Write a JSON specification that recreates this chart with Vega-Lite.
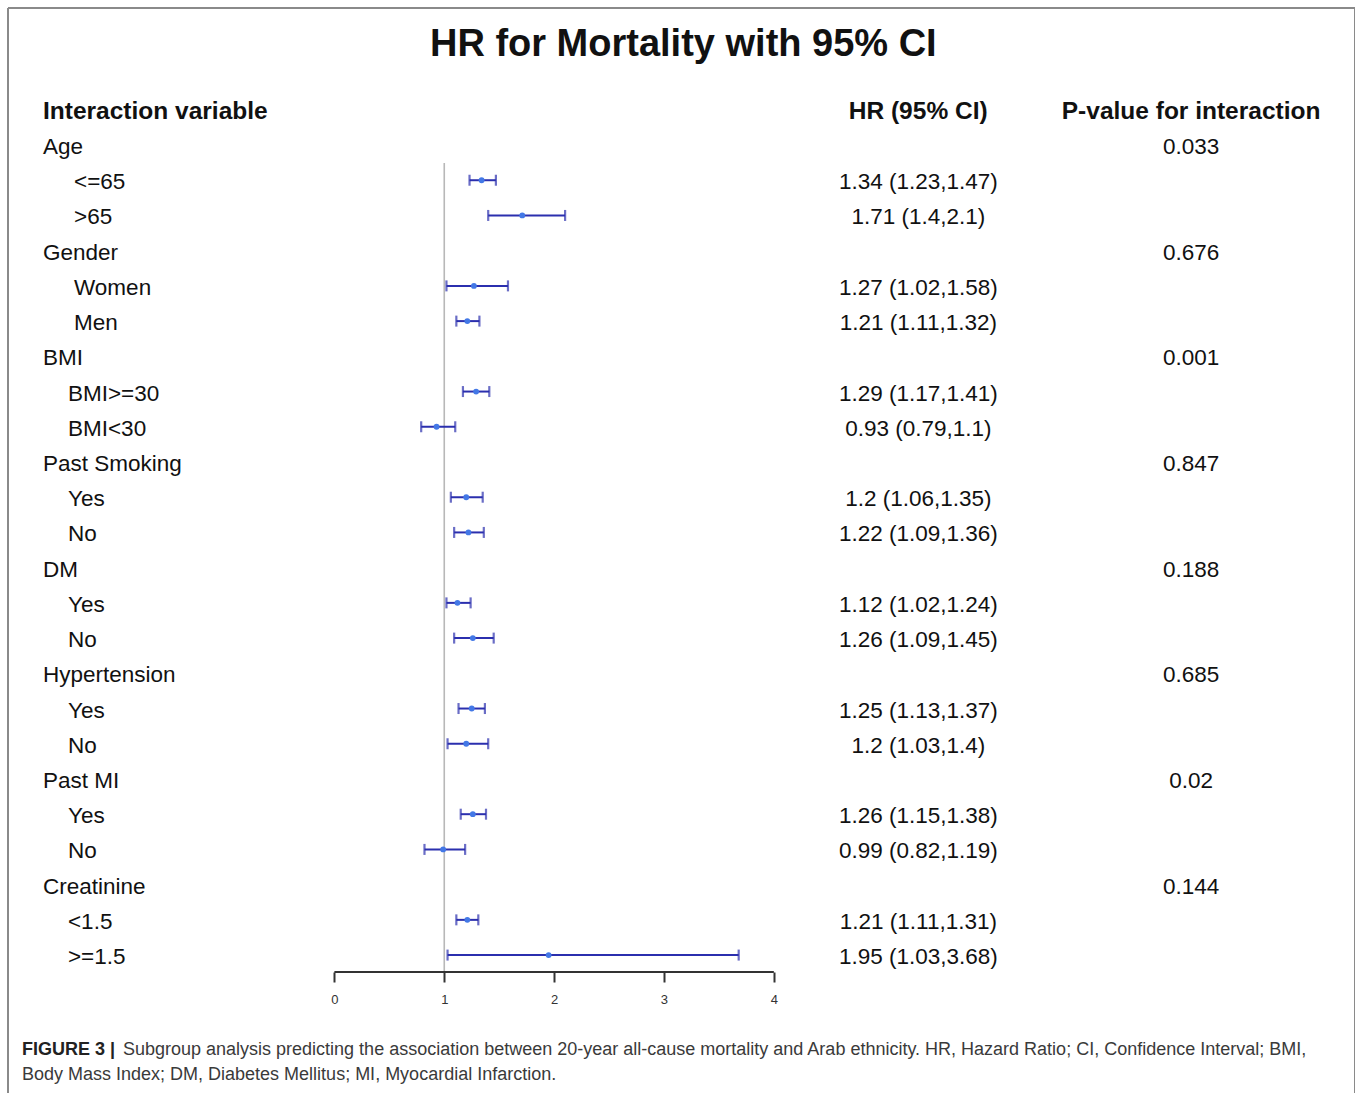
{
  "$schema": "https://vega.github.io/schema/vega-lite/v6.json",
  "width": 1347,
  "height": 1085,
  "autosize": {"type": "none"},
  "padding": {"left": 8, "top": 8, "right": 0, "bottom": 0},
  "background": "white",
  "config": {
    "view": {"stroke": null},
    "axisY": {"disable": true},
    "text": {"font": "Liberation Sans"}
  },
  "datasets": {
    "rows": [
      {"row": 1, "label": "Age", "level": 0, "p": "0.033"},
      {"row": 2, "label": "<=65", "level": 2, "hr": 1.34, "lo": 1.23, "hi": 1.47, "ci": "1.34 (1.23,1.47)"},
      {"row": 3, "label": ">65", "level": 2, "hr": 1.71, "lo": 1.4, "hi": 2.1, "ci": "1.71 (1.4,2.1)"},
      {"row": 4, "label": "Gender", "level": 0, "p": "0.676"},
      {"row": 5, "label": "Women", "level": 2, "hr": 1.27, "lo": 1.02, "hi": 1.58, "ci": "1.27 (1.02,1.58)"},
      {"row": 6, "label": "Men", "level": 2, "hr": 1.21, "lo": 1.11, "hi": 1.32, "ci": "1.21 (1.11,1.32)"},
      {"row": 7, "label": "BMI", "level": 0, "p": "0.001"},
      {"row": 8, "label": "BMI>=30", "level": 1, "hr": 1.29, "lo": 1.17, "hi": 1.41, "ci": "1.29 (1.17,1.41)"},
      {"row": 9, "label": "BMI<30", "level": 1, "hr": 0.93, "lo": 0.79, "hi": 1.1, "ci": "0.93 (0.79,1.1)"},
      {"row": 10, "label": "Past Smoking", "level": 0, "p": "0.847"},
      {"row": 11, "label": "Yes", "level": 1, "hr": 1.2, "lo": 1.06, "hi": 1.35, "ci": "1.2 (1.06,1.35)"},
      {"row": 12, "label": "No", "level": 1, "hr": 1.22, "lo": 1.09, "hi": 1.36, "ci": "1.22 (1.09,1.36)"},
      {"row": 13, "label": "DM", "level": 0, "p": "0.188"},
      {"row": 14, "label": "Yes", "level": 1, "hr": 1.12, "lo": 1.02, "hi": 1.24, "ci": "1.12 (1.02,1.24)"},
      {"row": 15, "label": "No", "level": 1, "hr": 1.26, "lo": 1.09, "hi": 1.45, "ci": "1.26 (1.09,1.45)"},
      {"row": 16, "label": "Hypertension", "level": 0, "p": "0.685"},
      {"row": 17, "label": "Yes", "level": 1, "hr": 1.25, "lo": 1.13, "hi": 1.37, "ci": "1.25 (1.13,1.37)"},
      {"row": 18, "label": "No", "level": 1, "hr": 1.2, "lo": 1.03, "hi": 1.4, "ci": "1.2 (1.03,1.4)"},
      {"row": 19, "label": "Past MI", "level": 0, "p": "0.02"},
      {"row": 20, "label": "Yes", "level": 1, "hr": 1.26, "lo": 1.15, "hi": 1.38, "ci": "1.26 (1.15,1.38)"},
      {"row": 21, "label": "No", "level": 1, "hr": 0.99, "lo": 0.82, "hi": 1.19, "ci": "0.99 (0.82,1.19)"},
      {"row": 22, "label": "Creatinine", "level": 0, "p": "0.144"},
      {"row": 23, "label": "<1.5", "level": 1, "hr": 1.21, "lo": 1.11, "hi": 1.31, "ci": "1.21 (1.11,1.31)"},
      {"row": 24, "label": ">=1.5", "level": 1, "hr": 1.95, "lo": 1.03, "hi": 3.68, "ci": "1.95 (1.03,3.68)"}
    ]
  },
  "data": {"name": "rows"},
  "layer": [
    {
      "data": {"values": [{}]},
      "mark": {"type": "rule", "color": "#b8b8b8", "strokeWidth": 1.6},
      "encoding": {
        "x": {"datum": 1, "type": "quantitative",
          "scale": {"type": "linear", "domain": [-2.971, 9.29], "nice": false, "zero": false},
          "axis": {"values": [0, 1, 2, 3, 4], "format": "d", "domain": false, "grid": false, "ticks": true, "tickSize": 10, "tickWidth": 2, "tickColor": "#333333", "labelFont": "Liberation Sans", "labelFontSize": 13, "labelColor": "#333333", "labelPadding": 11, "labelFlush": false, "offset": -121, "title": null}},
        "y": {"datum": 1.51, "type": "quantitative",
          "scale": {"type": "linear", "domain": [-2.89, 27.916], "reverse": true, "nice": false, "zero": false},
          "axis": null},
        "y2": {"datum": 24.48}
      }
    },
    {
      "data": {"values": [{}]},
      "mark": {"type": "rule", "color": "#8a8a8a", "strokeWidth": 2},
      "encoding": {
        "x": {"datum": -2.971, "type": "quantitative"},
        "y": {"datum": -2.89, "type": "quantitative"},
        "y2": {"datum": 27.916}
      }
    },
    {
      "data": {"values": [{}]},
      "mark": {"type": "rule", "color": "#8a8a8a", "strokeWidth": 2},
      "encoding": {
        "x": {"datum": 9.29, "type": "quantitative"},
        "y": {"datum": -2.89, "type": "quantitative"},
        "y2": {"datum": 27.916}
      }
    },
    {
      "data": {"values": [{}]},
      "mark": {"type": "rule", "color": "#8a8a8a", "strokeWidth": 2},
      "encoding": {
        "x": {"datum": -2.971, "type": "quantitative"},
        "x2": {"datum": 9.29},
        "y": {"datum": -2.89, "type": "quantitative"}
      }
    },
    {
      "data": {"values": [{}]},
      "mark": {"type": "rule", "color": "#333333", "strokeWidth": 2},
      "encoding": {
        "x": {"datum": 0, "type": "quantitative"},
        "x2": {"datum": 4},
        "y": {"datum": 24.48, "type": "quantitative"}
      }
    },
    {
      "transform": [{"filter": "isValid(datum.hr)"}],
      "mark": {"type": "rule", "color": "#2b2fae", "strokeWidth": 2},
      "encoding": {
        "x": {"field": "lo", "type": "quantitative"},
        "x2": {"field": "hi"},
        "y": {"field": "row", "type": "quantitative"}
      }
    },
    {
      "transform": [{"filter": "isValid(datum.hr)"}],
      "mark": {"type": "tick", "orient": "vertical", "color": "#2b2fae", "size": 11, "thickness": 2.2},
      "encoding": {
        "x": {"field": "lo", "type": "quantitative"},
        "y": {"field": "row", "type": "quantitative"}
      }
    },
    {
      "transform": [{"filter": "isValid(datum.hr)"}],
      "mark": {"type": "tick", "orient": "vertical", "color": "#2b2fae", "size": 11, "thickness": 2.2},
      "encoding": {
        "x": {"field": "hi", "type": "quantitative"},
        "y": {"field": "row", "type": "quantitative"}
      }
    },
    {
      "transform": [{"filter": "isValid(datum.hr)"}],
      "mark": {"type": "circle", "color": "#4378e6", "opacity": 1, "size": 34},
      "encoding": {
        "x": {"field": "hr", "type": "quantitative"},
        "y": {"field": "row", "type": "quantitative"}
      }
    },
    {
      "transform": [{"filter": "datum.level == 0"}],
      "mark": {"type": "text", "align": "left", "baseline": "middle", "dy": 2, "fontSize": 22.5, "color": "#111111"},
      "encoding": {
        "x": {"datum": -2.6525, "type": "quantitative"},
        "y": {"field": "row", "type": "quantitative"},
        "text": {"field": "label"}
      }
    },
    {
      "transform": [{"filter": "datum.level == 1"}],
      "mark": {"type": "text", "align": "left", "baseline": "middle", "dy": 2, "fontSize": 22.5, "color": "#111111"},
      "encoding": {
        "x": {"datum": -2.425, "type": "quantitative"},
        "y": {"field": "row", "type": "quantitative"},
        "text": {"field": "label"}
      }
    },
    {
      "transform": [{"filter": "datum.level == 2"}],
      "mark": {"type": "text", "align": "left", "baseline": "middle", "dy": 2, "fontSize": 22.5, "color": "#111111"},
      "encoding": {
        "x": {"datum": -2.37, "type": "quantitative"},
        "y": {"field": "row", "type": "quantitative"},
        "text": {"field": "label"}
      }
    },
    {
      "transform": [{"filter": "isValid(datum.ci)"}],
      "mark": {"type": "text", "align": "center", "baseline": "middle", "dy": 2, "fontSize": 22.5, "color": "#111111"},
      "encoding": {
        "x": {"datum": 5.316, "type": "quantitative"},
        "y": {"field": "row", "type": "quantitative"},
        "text": {"field": "ci"}
      }
    },
    {
      "transform": [{"filter": "isValid(datum.p)"}],
      "mark": {"type": "text", "align": "center", "baseline": "middle", "dy": 2, "fontSize": 22.5, "color": "#111111"},
      "encoding": {
        "x": {"datum": 7.798, "type": "quantitative"},
        "y": {"field": "row", "type": "quantitative"},
        "text": {"field": "p"}
      }
    },
    {
      "data": {"values": [{}]},
      "mark": {"type": "text", "align": "left", "baseline": "middle", "dy": 2, "fontSize": 24.5, "fontWeight": "bold", "color": "#111111"},
      "encoding": {
        "x": {"datum": -2.6525, "type": "quantitative"},
        "y": {"datum": 0, "type": "quantitative"},
        "text": {"value": "Interaction variable"}
      }
    },
    {
      "data": {"values": [{}]},
      "mark": {"type": "text", "align": "center", "baseline": "middle", "dy": 2, "fontSize": 24.5, "fontWeight": "bold", "color": "#111111"},
      "encoding": {
        "x": {"datum": 5.314, "type": "quantitative"},
        "y": {"datum": 0, "type": "quantitative"},
        "text": {"value": "HR (95% CI)"}
      }
    },
    {
      "data": {"values": [{}]},
      "mark": {"type": "text", "align": "center", "baseline": "middle", "dy": 2, "fontSize": 24.5, "fontWeight": "bold", "color": "#111111"},
      "encoding": {
        "x": {"datum": 7.798, "type": "quantitative"},
        "y": {"datum": 0, "type": "quantitative"},
        "text": {"value": "P-value for interaction"}
      }
    },
    {
      "data": {"values": [{}]},
      "mark": {"type": "text", "align": "center", "baseline": "middle", "fontSize": 38, "fontWeight": "bold", "color": "#111111"},
      "encoding": {
        "x": {"datum": 3.176, "type": "quantitative"},
        "y": {"datum": -1.84, "type": "quantitative"},
        "text": {"value": "HR for Mortality with 95% CI"}
      }
    },
    {
      "data": {"values": [{}]},
      "mark": {"type": "text", "align": "left", "baseline": "middle", "fontSize": 18, "fontWeight": "bold", "color": "#222222"},
      "encoding": {
        "x": {"datum": -2.8435, "type": "quantitative"},
        "y": {"datum": 26.696, "type": "quantitative"},
        "text": {"value": "FIGURE 3 |"}
      }
    },
    {
      "data": {"values": [{}]},
      "mark": {"type": "text", "align": "left", "baseline": "middle", "fontSize": 18, "color": "#3a3a3a"},
      "encoding": {
        "x": {"datum": -1.9245, "type": "quantitative"},
        "y": {"datum": 26.696, "type": "quantitative"},
        "text": {"value": "Subgroup analysis predicting the association between 20-year all-cause mortality and Arab ethnicity. HR, Hazard Ratio; CI, Confidence Interval; BMI,"}
      }
    },
    {
      "data": {"values": [{}]},
      "mark": {"type": "text", "align": "left", "baseline": "middle", "fontSize": 18, "color": "#3a3a3a"},
      "encoding": {
        "x": {"datum": -2.8435, "type": "quantitative"},
        "y": {"datum": 27.405, "type": "quantitative"},
        "text": {"value": "Body Mass Index; DM, Diabetes Mellitus; MI, Myocardial Infarction."}
      }
    }
  ]
}
